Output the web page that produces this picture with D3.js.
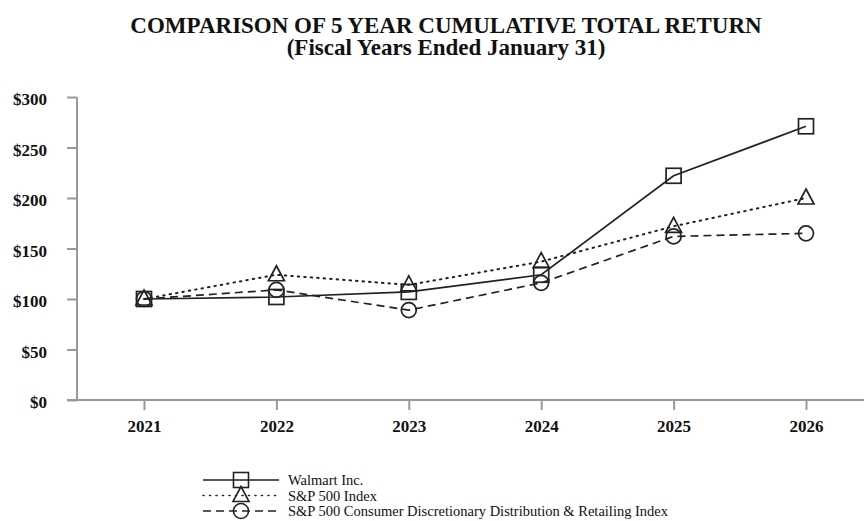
<!DOCTYPE html>
<html>
<head>
<meta charset="utf-8">
<script src="https://cdn.jsdelivr.net/npm/d3@7"></script>
<style>
  body { margin: 0; background: #fff; }
  #container { width: 864px; height: 521px; }
  text { font-family: "Liberation Serif", "Times New Roman", serif; fill: #111; }
</style>
</head>
<body>
<div id="container"></div>
<script>
const years = ["2021", "2022", "2023", "2024", "2025", "2026"];
const walmart = [100, 102, 107, 124, 222, 271];
const sp500 = [100, 124, 114, 137, 172, 200];
const consumerDisc = [100, 109, 89, 116, 162, 165];
const seriesNames = ["Walmart Inc.", "S&P 500 Index", "S&P 500 Consumer Discretionary Distribution & Retailing Index"];
const yTicks = [0, 50, 100, 150, 200, 250, 300];

const container = d3.select("#container");
let svg = container
  .append("svg")
  .attr("width", 864)
  .attr("height", 521);

let x = d3.scalePoint().domain(years).range([144, 806]);
let y = d3.scaleLinear().domain([0, 300]).range([400, 97]);

// title
svg.append("text")
  .attr("x", 446).attr("y", 32.5)
  .attr("text-anchor", "middle")
  .style("font-size", "23px").style("font-weight", "bold")
  .text("COMPARISON OF 5 YEAR CUMULATIVE TOTAL RETURN");
svg.append("text")
  .attr("x", 446).attr("y", 55)
  .attr("text-anchor", "middle")
  .style("font-size", "23px").style("font-weight", "bold")
  .text("(Fiscal Years Ended January 31)");

// axes
let yAxis = svg.append("g")
  .attr("transform", "translate(77,0)")
  .call(d3.axisLeft(y).tickValues(yTicks).tickSize(10).tickFormat(d => "$" + d));
let xAxis = svg.append("g")
  .attr("transform", "translate(0,400)")
  .call(d3.axisBottom(x).tickSize(10));

[yAxis, xAxis].forEach(ax => {
  ax.select(".domain").remove();
  ax.selectAll("line").attr("stroke", "#999").attr("stroke-width", 2);
  ax.selectAll("text")
    .style("font-family", "'Liberation Serif', serif")
    .style("font-size", "17px").style("font-weight", "bold")
    .attr("fill", "#111");
});
yAxis.selectAll("text").attr("x", -30).attr("dy", "0.45em");
xAxis.selectAll("text").attr("y", 20);
svg.append("line").attr("x1", 77).attr("x2", 77).attr("y1", 97).attr("y2", 400)
  .attr("stroke", "#999").attr("stroke-width", 2);
svg.append("line").attr("x1", 67).attr("x2", 864).attr("y1", 400).attr("y2", 400)
  .attr("stroke", "#999").attr("stroke-width", 2);

let series = [
  { name: seriesNames[0], values: walmart, dash: null, shape: "square" },
  { name: seriesNames[1], values: sp500, dash: "1.5,5", shape: "triangle" },
  { name: seriesNames[2], values: consumerDisc, dash: "8,5", shape: "circle" }
];

let drawMarker = (g, shape, cx, cy) => {
  if (shape === "square") {
    g.append("rect").attr("x", cx - 7.5).attr("y", cy - 7.5)
      .attr("width", 15).attr("height", 15);
  } else if (shape === "triangle") {
    g.append("path")
      .attr("d", `M${cx},${cy - 9}L${cx + 8},${cy + 6}L${cx - 8},${cy + 6}Z`);
  } else {
    g.append("circle").attr("cx", cx).attr("cy", cy).attr("r", 7.5);
  }
};

let line = d3.line().x((d, i) => x(years[i])).y(d => y(d));

series.forEach(s => {
  svg.append("path")
    .datum(s.values)
    .attr("d", line)
    .attr("fill", "none")
    .attr("stroke", "#222")
    .attr("stroke-width", s.dash === "1.5,5" ? 2 : 1.7)
    .attr("stroke-linecap", s.dash === "1.5,5" ? "round" : "butt")
    .attr("stroke-dasharray", s.dash);
  let mg = svg.append("g").attr("fill", "none").attr("stroke", "#222").attr("stroke-width", 1.7);
  s.values.forEach((v, i) => drawMarker(mg, s.shape, x(years[i]), y(v)));
});

// legend
let legend = svg.append("g");
series.forEach((s, i) => {
  let ly = 480 + i * 15.5;
  legend.append("line")
    .attr("x1", 203).attr("x2", 279).attr("y1", ly).attr("y2", ly)
    .attr("stroke", "#222")
    .attr("stroke-width", 1.6)
    .attr("stroke-linecap", s.dash === "1.5,5" ? "round" : "butt")
    .attr("stroke-dasharray", s.dash === "1.5,5" ? "1,5.5" : s.dash);
  let mg = legend.append("g").attr("fill", "none").attr("stroke", "#222").attr("stroke-width", 1.6);
  drawMarker(mg, s.shape, 241, ly);
  legend.append("text")
    .attr("x", 288).attr("y", ly + 5)
    .style("font-size", "14.5px")
    .text(s.name);
});
</script>
</body>
</html>
